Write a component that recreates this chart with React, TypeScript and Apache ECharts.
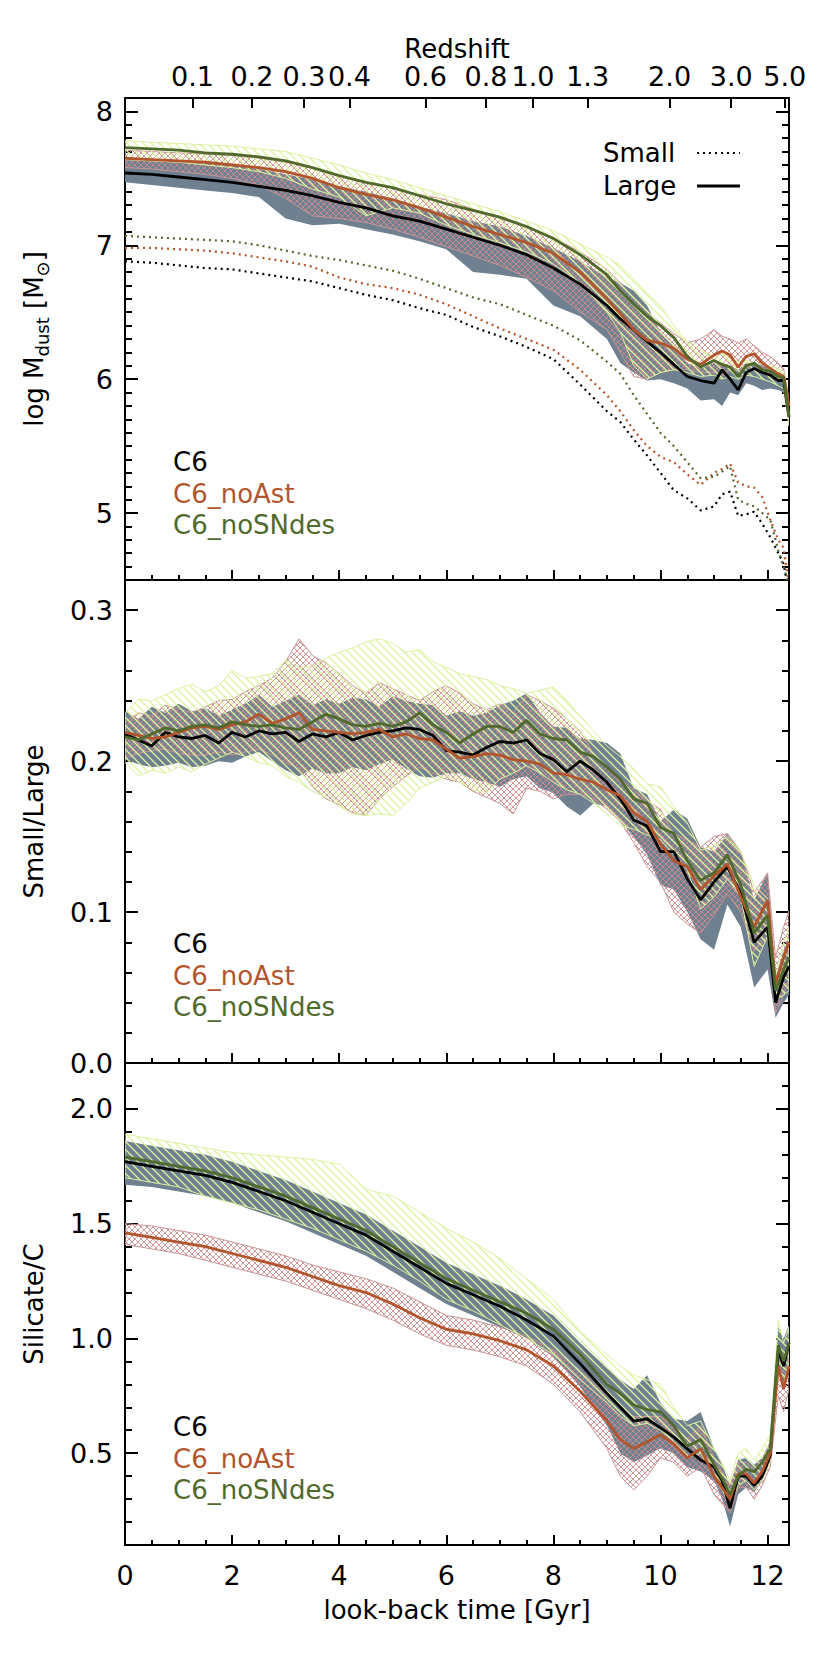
import React, { useEffect, useRef } from 'react';
import * as echarts from 'echarts';

// ---------- shared time grids (look-back time, Gyr) ----------
const T1 = [
  0, 0.5, 1, 1.5, 2, 2.5, 3, 3.5, 4, 4.5,
  5, 5.5, 6, 6.5, 7, 7.5, 8, 8.5, 9, 9.25,
  9.5, 9.75, 10, 10.25, 10.5, 10.75, 11, 11.15, 11.3, 11.45,
  11.6, 11.75, 11.9, 12.05, 12.2, 12.3, 12.4,
];
const T2 = [
  0, 0.25, 0.5, 0.75, 1, 1.25, 1.5, 1.75,
  2, 2.25, 2.5, 2.75, 3, 3.25, 3.5, 3.75,
  4, 4.25, 4.5, 4.75, 5, 5.25, 5.5, 5.75,
  6, 6.25, 6.5, 6.75, 7, 7.25, 7.5, 7.75,
  8, 8.25, 8.5, 8.75, 9, 9.25, 9.5, 9.75,
  10, 10.25, 10.5, 10.75, 11, 11.25, 11.5, 11.75,
  12, 12.15, 12.3, 12.4,
];

// ---------- panel 1: log M_dust ----------
const P1_C6_LARGE = [
  7.54, 7.53, 7.51, 7.49, 7.47, 7.44, 7.41, 7.37, 7.32, 7.28,
  7.22, 7.18, 7.12, 7.06, 7.00, 6.93, 6.83, 6.71, 6.55, 6.45,
  6.37, 6.28, 6.20, 6.11, 6.02, 5.99, 5.97, 6.07, 6.00, 5.92,
  6.05, 6.08, 6.05, 6.03, 5.99, 5.99, 5.72,
];
const P1_NOAST_LARGE = [
  7.65, 7.64, 7.63, 7.62, 7.60, 7.58, 7.55, 7.50, 7.43, 7.38,
  7.34, 7.28, 7.21, 7.14, 7.08, 7.02, 6.94, 6.80, 6.60, 6.49,
  6.37, 6.29, 6.27, 6.23, 6.15, 6.11, 6.18, 6.21, 6.18, 6.09,
  6.17, 6.19, 6.12, 6.08, 6.04, 6.02, 5.80,
];
const P1_NOSN_LARGE = [
  7.73, 7.72, 7.71, 7.69, 7.68, 7.66, 7.63, 7.58, 7.52, 7.47,
  7.43, 7.37, 7.31, 7.26, 7.21, 7.14, 7.05, 6.93, 6.78, 6.66,
  6.56, 6.47, 6.40, 6.31, 6.17, 6.09, 6.14, 6.11, 6.09, 6.02,
  6.10, 6.12, 6.07, 6.06, 6.02, 6.01, 5.72,
];
const P1_C6_SMALL = [
  6.88, 6.87, 6.85, 6.83, 6.82, 6.79, 6.76, 6.73, 6.68, 6.63,
  6.59, 6.53, 6.48, 6.39, 6.32, 6.24, 6.15, 5.96, 5.76, 5.68,
  5.55, 5.43, 5.30, 5.17, 5.11, 5.02, 5.05, 5.14, 5.16, 4.98,
  4.99, 5.01, 4.92, 4.82, 4.70, 4.62, 4.40,
];
const P1_NOAST_SMALL = [
  6.98, 6.98, 6.97, 6.96, 6.94, 6.91, 6.88, 6.84, 6.76, 6.71,
  6.68, 6.63, 6.56, 6.47, 6.38, 6.30, 6.22, 6.07, 5.88, 5.76,
  5.62, 5.50, 5.42, 5.38, 5.29, 5.21, 5.30, 5.33, 5.37, 5.23,
  5.20, 5.19, 5.12, 4.95, 4.80, 4.74, 4.45,
];
const P1_NOSN_SMALL = [
  7.07, 7.06, 7.05, 7.04, 7.03, 7.00, 6.96, 6.92, 6.89, 6.85,
  6.81, 6.75, 6.68, 6.61, 6.56, 6.48, 6.40, 6.29, 6.13, 6.04,
  5.88, 5.74, 5.60, 5.50, 5.38, 5.26, 5.27, 5.31, 5.35, 5.10,
  5.07, 5.05, 5.00, 4.95, 4.72, 4.60, 4.45,
];
const P1_C6_LO = [
  7.47, 7.45, 7.43, 7.41, 7.39, 7.36, 7.20, 7.15, 7.16, 7.12,
  7.08, 7.03, 6.97, 6.80, 6.78, 6.75, 6.55, 6.47, 6.30, 6.12,
  6.05, 5.99, 6.00, 5.97, 5.93, 5.84, 5.85, 5.80, 5.90, 5.88,
  5.97, 5.95, 5.92, 5.93, 5.92, 5.90, 5.65,
];
const P1_C6_HI = [
  7.64, 7.63, 7.62, 7.61, 7.60, 7.57, 7.53, 7.49, 7.44, 7.40,
  7.35, 7.29, 7.24, 7.18, 7.14, 7.07, 6.98, 6.88, 6.76, 6.72,
  6.66, 6.55, 6.35, 6.25, 6.12, 6.08, 6.12, 6.12, 6.10, 6.07,
  6.12, 6.12, 6.10, 6.08, 6.05, 6.04, 5.80,
];
const P1_NOAST_LO = [
  7.58, 7.57, 7.55, 7.53, 7.50, 7.45, 7.35, 7.22, 7.20, 7.17,
  7.12, 7.06, 6.99, 6.92, 6.85, 6.76, 6.66, 6.50, 6.37, 6.20,
  6.02, 6.00, 6.05, 6.07, 6.07, 6.05, 6.05, 6.02, 6.07, 6.06,
  6.09, 6.07, 6.05, 6.02, 6.00, 5.97, 5.70,
];
const P1_NOAST_HI = [
  7.71, 7.70, 7.69, 7.68, 7.67, 7.65, 7.62, 7.58, 7.52, 7.47,
  7.43, 7.38, 7.34, 7.27, 7.20, 7.13, 7.06, 6.95, 6.82, 6.72,
  6.60, 6.50, 6.42, 6.34, 6.27, 6.30, 6.37, 6.32, 6.30, 6.27,
  6.30, 6.25, 6.20, 6.17, 6.12, 6.08, 5.85,
];
const P1_NOSN_LO = [
  7.64, 7.63, 7.62, 7.60, 7.58, 7.55, 7.50, 7.42, 7.36, 7.22,
  7.28, 7.24, 7.15, 7.08, 7.02, 6.95, 6.86, 6.72, 6.50, 6.35,
  6.10, 6.00, 6.05, 6.07, 6.05, 6.02, 6.03, 6.00, 6.02, 6.00,
  6.03, 6.02, 6.00, 5.98, 5.95, 5.93, 5.65,
];
const P1_NOSN_HI = [
  7.78, 7.77, 7.76, 7.75, 7.74, 7.72, 7.70, 7.65, 7.60, 7.54,
  7.49, 7.43, 7.37, 7.31, 7.25, 7.18, 7.11, 7.01, 6.91, 6.85,
  6.75, 6.64, 6.55, 6.40, 6.28, 6.22, 6.17, 6.20, 6.15, 6.13,
  6.14, 6.12, 6.11, 6.10, 6.08, 6.06, 5.80,
];

// ---------- panel 2: Small/Large ----------
const P2_C6 = [
  0.218, 0.214, 0.210, 0.219, 0.216, 0.215, 0.217, 0.212,
  0.219, 0.216, 0.220, 0.218, 0.219, 0.213, 0.218, 0.216,
  0.219, 0.214, 0.217, 0.219, 0.220, 0.222, 0.221, 0.217,
  0.207, 0.206, 0.204, 0.209, 0.213, 0.212, 0.214, 0.205,
  0.201, 0.193, 0.200, 0.194, 0.186, 0.175, 0.161, 0.157,
  0.140, 0.140, 0.122, 0.108, 0.120, 0.130, 0.112, 0.080,
  0.090, 0.040, 0.057, 0.064,
];
const P2_NOAST = [
  0.219, 0.217, 0.215, 0.216, 0.219, 0.222, 0.223, 0.221,
  0.224, 0.226, 0.231, 0.225, 0.228, 0.232, 0.221, 0.220,
  0.219, 0.218, 0.219, 0.221, 0.216, 0.218, 0.215, 0.214,
  0.208, 0.202, 0.203, 0.205, 0.204, 0.201, 0.200, 0.198,
  0.192, 0.191, 0.188, 0.186, 0.181, 0.177, 0.166, 0.160,
  0.145, 0.134, 0.130, 0.115, 0.124, 0.132, 0.110, 0.090,
  0.108, 0.053, 0.070, 0.080,
];
const P2_NOSN = [
  0.216, 0.214, 0.218, 0.222, 0.220, 0.223, 0.224, 0.222,
  0.226, 0.224, 0.223, 0.224, 0.222, 0.221, 0.226, 0.231,
  0.228, 0.224, 0.223, 0.225, 0.223, 0.226, 0.232, 0.224,
  0.219, 0.212, 0.218, 0.223, 0.223, 0.219, 0.227, 0.218,
  0.215, 0.214, 0.206, 0.203, 0.196, 0.188, 0.175, 0.172,
  0.156, 0.152, 0.134, 0.121, 0.126, 0.138, 0.118, 0.086,
  0.098, 0.048, 0.062, 0.070,
];
const P2_C6_HI = [
  0.233, 0.228, 0.236, 0.232, 0.238, 0.233, 0.235, 0.230,
  0.234, 0.238, 0.244, 0.236, 0.240, 0.244, 0.237, 0.241,
  0.238, 0.242, 0.241, 0.236, 0.243, 0.240, 0.238, 0.237,
  0.230, 0.233, 0.230, 0.232, 0.237, 0.240, 0.245, 0.232,
  0.223, 0.222, 0.215, 0.214, 0.212, 0.205, 0.182, 0.178,
  0.160, 0.168, 0.162, 0.143, 0.140, 0.152, 0.140, 0.108,
  0.126, 0.057, 0.075, 0.084,
];
const P2_C6_LO = [
  0.201, 0.198, 0.196, 0.197, 0.199, 0.196, 0.197, 0.200,
  0.199, 0.203, 0.206, 0.200, 0.194, 0.190, 0.195, 0.192,
  0.192, 0.196, 0.194, 0.198, 0.201, 0.195, 0.190, 0.189,
  0.192, 0.192, 0.188, 0.186, 0.183, 0.188, 0.190, 0.182,
  0.179, 0.170, 0.164, 0.172, 0.170, 0.160, 0.150, 0.138,
  0.118, 0.115, 0.100, 0.082, 0.075, 0.105, 0.090, 0.050,
  0.062, 0.030, 0.040, 0.045,
];
const P2_NOAST_HI = [
  0.226, 0.232, 0.230, 0.237, 0.235, 0.232, 0.236, 0.240,
  0.241, 0.246, 0.250, 0.255, 0.266, 0.281, 0.270, 0.265,
  0.258, 0.250, 0.245, 0.252, 0.248, 0.244, 0.240, 0.246,
  0.250, 0.245, 0.238, 0.234, 0.238, 0.232, 0.244, 0.240,
  0.235, 0.228, 0.220, 0.205, 0.196, 0.188, 0.181, 0.174,
  0.168, 0.152, 0.148, 0.143, 0.150, 0.152, 0.140, 0.113,
  0.126, 0.070, 0.090, 0.101,
];
const P2_NOAST_LO = [
  0.202, 0.205, 0.207, 0.208, 0.205, 0.204, 0.204, 0.206,
  0.204, 0.206, 0.208, 0.204, 0.199, 0.195, 0.183, 0.175,
  0.171, 0.166, 0.164, 0.175, 0.183, 0.190, 0.196, 0.192,
  0.188, 0.186, 0.180, 0.176, 0.172, 0.165, 0.182, 0.180,
  0.175, 0.178, 0.178, 0.175, 0.168, 0.160, 0.146, 0.130,
  0.120, 0.100, 0.092, 0.086, 0.098, 0.112, 0.100, 0.074,
  0.084, 0.033, 0.045, 0.055,
];
const P2_NOSN_HI = [
  0.232, 0.241, 0.240, 0.244, 0.248, 0.251, 0.246, 0.250,
  0.260, 0.255, 0.256, 0.258, 0.267, 0.262, 0.263, 0.268,
  0.272, 0.275, 0.279, 0.281, 0.278, 0.272, 0.274, 0.266,
  0.262, 0.258, 0.256, 0.254, 0.250, 0.248, 0.245, 0.247,
  0.249, 0.240, 0.230, 0.220, 0.210, 0.203, 0.195, 0.185,
  0.183, 0.170, 0.159, 0.141, 0.144, 0.150, 0.140, 0.118,
  0.109, 0.057, 0.080, 0.090,
];
const P2_NOSN_LO = [
  0.199, 0.190, 0.194, 0.192, 0.196, 0.193, 0.198, 0.202,
  0.206, 0.203, 0.199, 0.197, 0.190, 0.186, 0.180, 0.176,
  0.170, 0.165, 0.164, 0.165, 0.164, 0.172, 0.182, 0.186,
  0.190, 0.186, 0.181, 0.179, 0.188, 0.192, 0.197, 0.192,
  0.186, 0.181, 0.178, 0.172, 0.165, 0.157, 0.155, 0.151,
  0.148, 0.138, 0.128, 0.102, 0.110, 0.122, 0.110, 0.064,
  0.084, 0.042, 0.045, 0.048,
];

// ---------- panel 3: Silicate/C ----------
const P3_C6 = [
  1.77, 1.75, 1.73, 1.71, 1.68, 1.64, 1.60, 1.55, 1.50, 1.45,
  1.38, 1.31, 1.24, 1.19, 1.14, 1.08, 1.01, 0.89, 0.76, 0.70,
  0.64, 0.65, 0.61, 0.57, 0.52, 0.47, 0.44, 0.38, 0.26, 0.40,
  0.40, 0.36, 0.40, 0.49, 0.95, 0.88, 0.98,
];
const P3_NOAST = [
  1.46, 1.44, 1.42, 1.40, 1.37, 1.34, 1.31, 1.27, 1.23, 1.20,
  1.15, 1.09, 1.04, 1.02, 0.99, 0.95, 0.88, 0.77, 0.64, 0.56,
  0.52, 0.55, 0.58, 0.54, 0.48, 0.52, 0.40, 0.35, 0.30, 0.41,
  0.41, 0.37, 0.42, 0.50, 0.88, 0.78, 0.88,
];
const P3_NOSN = [
  1.79, 1.77, 1.75, 1.73, 1.70, 1.66, 1.62, 1.57, 1.52, 1.47,
  1.40, 1.33, 1.26, 1.21, 1.16, 1.11, 1.04, 0.93, 0.80, 0.76,
  0.71, 0.69, 0.68, 0.62, 0.53, 0.56, 0.45, 0.39, 0.32, 0.40,
  0.43, 0.42, 0.46, 0.52, 0.97, 0.90, 0.98,
];
const P3_C6_HI = [
  1.86, 1.84, 1.82, 1.80, 1.77, 1.73, 1.69, 1.64, 1.59, 1.54,
  1.47, 1.40, 1.33, 1.28, 1.23, 1.17, 1.10, 0.98, 0.87, 0.82,
  0.78, 0.84, 0.72, 0.65, 0.64, 0.68, 0.52, 0.45, 0.36, 0.47,
  0.48, 0.45, 0.48, 0.55, 1.05, 1.00, 1.06,
];
const P3_C6_LO = [
  1.67, 1.66, 1.64, 1.62, 1.59, 1.55, 1.51, 1.46, 1.41, 1.36,
  1.29, 1.22, 1.15, 1.10, 1.05, 1.00, 0.92, 0.79, 0.62, 0.50,
  0.46, 0.49, 0.52, 0.50, 0.44, 0.42, 0.38, 0.30, 0.18, 0.32,
  0.35, 0.33, 0.38, 0.46, 0.85, 0.80, 0.90,
];
const P3_NOAST_HI = [
  1.50, 1.49, 1.47, 1.45, 1.42, 1.39, 1.36, 1.32, 1.29, 1.26,
  1.22, 1.16, 1.10, 1.08, 1.05, 1.01, 0.95, 0.86, 0.75, 0.70,
  0.66, 0.66, 0.66, 0.62, 0.56, 0.62, 0.48, 0.42, 0.36, 0.46,
  0.46, 0.43, 0.47, 0.55, 0.95, 0.92, 0.95,
];
const P3_NOAST_LO = [
  1.41, 1.39, 1.37, 1.34, 1.31, 1.28, 1.25, 1.21, 1.17, 1.13,
  1.08, 1.02, 0.97, 0.95, 0.92, 0.88, 0.80, 0.68, 0.52, 0.40,
  0.34, 0.40, 0.48, 0.46, 0.40, 0.44, 0.32, 0.28, 0.24, 0.35,
  0.35, 0.30, 0.36, 0.44, 0.75, 0.68, 0.78,
];
const P3_NOSN_HI = [
  1.89, 1.87, 1.85, 1.83, 1.81, 1.80, 1.79, 1.78, 1.76, 1.65,
  1.62, 1.55, 1.48, 1.42, 1.35, 1.26, 1.17, 1.03, 0.93, 0.88,
  0.84, 0.82, 0.80, 0.70, 0.62, 0.64, 0.52, 0.46, 0.38, 0.50,
  0.52, 0.47, 0.52, 0.58, 1.08, 0.98, 1.05,
];
const P3_NOSN_LO = [
  1.70, 1.68, 1.66, 1.62, 1.59, 1.56, 1.52, 1.48, 1.43, 1.38,
  1.32, 1.25, 1.17, 1.12, 1.06, 1.00, 0.93, 0.82, 0.72, 0.66,
  0.62, 0.63, 0.60, 0.55, 0.48, 0.50, 0.40, 0.34, 0.27, 0.36,
  0.38, 0.34, 0.38, 0.46, 0.85, 0.80, 0.90,
];

// ---------- axis tick labels ----------
const X_MAJOR = [0, 2, 4, 6, 8, 10, 12];
const Z_LABELS = ['0.1', '0.2', '0.3', '0.4', '0.6', '0.8', '1.0', '1.3', '2.0', '3.0', '5.0'];
const Z_TIME = [1.26, 2.37, 3.34, 4.19, 5.61, 6.74, 7.62, 8.64, 10.17, 11.32, 12.32];
const Y1_MAJOR = [5, 6, 7, 8];
const Y2_MAJOR = [0, 0.1, 0.2, 0.3];
const Y3_MAJOR = [0.5, 1.0, 1.5, 2.0];
const MODEL_NAMES = ['C6', 'C6_noAst', 'C6_noSNdes'];

// ---------- style ----------
const FONT = 'DejaVu Sans';
const C_BLACK = '#000000';
const C_ORANGE = '#b3552c';
const C_GREEN = '#50692c';
const C_GRAY = '#6f8091';
const C_PINK = '#c99595';
const C_YELLOW = '#dcf0a0';
const MODEL_COLORS = [C_BLACK, C_ORANGE, C_GREEN];

const GRID_TOP = [98, 580, 1063];
const GRID_H = [482, 483, 482];
const GRID_LEFT = 125;
const GRID_W = 664;

function minorTicks(from: number, to: number, step: number, majorEvery: number) {
  const out: number[] = [];
  const n = Math.round((to - from) / step);
  for (let k = 0; k <= n; k++) {
    const v = +(from + k * step).toFixed(4);
    const r = v / majorEvery;
    if (Math.abs(r - Math.round(r)) > 1e-6) out.push(v);
  }
  return out;
}

function hatch(cross: boolean, color: string, size: number, lw: number) {
  const c = document.createElement('canvas');
  c.width = size;
  c.height = size;
  const g = c.getContext('2d') as CanvasRenderingContext2D;
  g.strokeStyle = color;
  g.lineWidth = lw;
  g.beginPath();
  g.moveTo(-2, -2); g.lineTo(size + 2, size + 2);
  g.moveTo(-2, size - 2); g.lineTo(2, size + 2);
  g.moveTo(size - 2, -2); g.lineTo(size + 2, 2);
  if (cross) {
    g.moveTo(-2, size + 2); g.lineTo(size + 2, -2);
    g.moveTo(-2, 2); g.lineTo(2, -2);
    g.moveTo(size - 2, size + 2); g.lineTo(size + 2, size - 2);
  }
  g.stroke();
  return c;
}

function pairs(T: number[], v: number[]) {
  return T.map((t, i) => [t, v[i]]);
}

function band(gi: number, T: number[], lo: number[], hi: number[], fill: any, stroke: string | null, z: number) {
  return {
    type: 'custom',
    xAxisIndex: gi * 3,
    yAxisIndex: gi * 4,
    z,
    clip: true,
    silent: true,
    data: T.map((t, i) => [t, lo[i], hi[i]]),
    encode: { x: 0, y: [1, 2] },
    renderItem: (params: any, api: any) => {
      if (params.dataIndex !== 0) return null;
      const pts: number[][] = [];
      for (let i = 0; i < T.length; i++) pts.push(api.coord([T[i], hi[i]]));
      for (let i = T.length - 1; i >= 0; i--) pts.push(api.coord([T[i], lo[i]]));
      return {
        type: 'polygon',
        shape: { points: pts },
        style: { fill, stroke: stroke || 'none', lineWidth: stroke ? 1 : 0 },
      };
    },
  };
}

function line(gi: number, T: number[], v: number[], color: string, dotted: boolean, z: number) {
  return {
    type: 'line',
    xAxisIndex: gi * 3,
    yAxisIndex: gi * 4,
    z,
    data: pairs(T, v),
    showSymbol: false,
    symbol: 'none',
    silent: true,
    clip: true,
    lineStyle: dotted
      ? { color, width: 2.2, type: [2, 4] }
      : { color, width: 2.8 },
  };
}

const lab = { fontFamily: FONT, fontSize: 26, color: '#000' };
const tickLab = { fontFamily: FONT, fontSize: 27, color: '#000' };
const axLine = { show: true, onZero: false, lineStyle: { color: '#000', width: 2 } };

export default function App() {
  const ref = useRef<HTMLDivElement>(null);

  useEffect(() => {
    if (!ref.current) return;
    const chart = echarts.init(ref.current, null, { renderer: 'svg' });

    const X_MINOR = minorTicks(0.5, 12, 0.5, 2);
    const YCFG = [
      { min: 4.5, max: 8.1, major: Y1_MAJOR, minor: minorTicks(4.6, 8.0, 0.1, 1), fmt: (v: number) => String(Math.round(v)), name: 'log M{s|dust} [M{s|⊙}]' },
      { min: 0, max: 0.32, major: Y2_MAJOR, minor: minorTicks(0.02, 0.3, 0.02, 0.1), fmt: (v: number) => v.toFixed(1), name: 'Small/Large' },
      { min: 0.1, max: 2.2, major: Y3_MAJOR, minor: minorTicks(0.2, 2.1, 0.1, 0.5), fmt: (v: number) => v.toFixed(1), name: 'Silicate/C' },
    ];

    const grids: any[] = [];
    const xAxes: any[] = [];
    const yAxes: any[] = [];
    for (let gi = 0; gi < 3; gi++) {
      grids.push({ left: GRID_LEFT, width: GRID_W, top: GRID_TOP[gi], height: GRID_H[gi], containLabel: false });
      const xb = { gridIndex: gi, type: 'value', min: 0, max: 12.4, splitLine: { show: false } };
      xAxes.push({
        ...xb, position: 'bottom', axisLine: axLine,
        axisTick: { show: true, inside: true, length: 10, customValues: X_MAJOR, lineStyle: { color: '#000', width: 2 } },
        axisLabel: { show: gi === 2, customValues: X_MAJOR, margin: 17, ...tickLab },
        name: gi === 2 ? 'look-back time [Gyr]' : '', nameLocation: 'middle', nameGap: 52, nameTextStyle: lab,
      });
      xAxes.push({
        ...xb, position: 'bottom', axisLine: { show: false, onZero: false },
        axisTick: { show: true, inside: true, length: 5, customValues: X_MINOR, lineStyle: { color: '#000', width: 2 } },
        axisLabel: { show: false },
      });
      if (gi === 0) {
        xAxes.push({
          ...xb, position: 'top', axisLine: axLine,
          axisTick: { show: true, inside: true, length: 10, customValues: Z_TIME, lineStyle: { color: '#000', width: 2 } },
          axisLabel: {
            show: true, customValues: Z_TIME, margin: 8, ...tickLab,
            formatter: (v: number) => { const k = Z_TIME.indexOf(v); return k >= 0 ? Z_LABELS[k] : ''; },
          },
          name: 'Redshift', nameLocation: 'middle', nameGap: 35, nameTextStyle: lab,
        });
      } else {
        xAxes.push({ ...xb, position: 'top', axisLine: axLine, axisTick: { show: false }, axisLabel: { show: false } });
      }

      const c = YCFG[gi];
      const yb = { gridIndex: gi, type: 'value', min: c.min, max: c.max, splitLine: { show: false } };
      yAxes.push({
        ...yb, position: 'left', axisLine: axLine,
        axisTick: { show: true, inside: true, length: 13, customValues: c.major, lineStyle: { color: '#000', width: 2 } },
        axisLabel: { show: true, customValues: c.major, margin: 12, formatter: c.fmt, ...tickLab },
        name: c.name, nameLocation: 'middle', nameGap: 74, nameRotate: 90,
        nameTextStyle: { ...lab, lineHeight: 34, rich: { s: { fontFamily: FONT, fontSize: 18, lineHeight: 18, verticalAlign: 'bottom', color: '#000' } } },
      });
      yAxes.push({
        ...yb, position: 'left', axisLine: { show: false, onZero: false },
        axisTick: { show: true, inside: true, length: 7, customValues: c.minor, lineStyle: { color: '#000', width: 2 } },
        axisLabel: { show: false },
      });
      yAxes.push({
        ...yb, position: 'right', axisLine: axLine,
        axisTick: { show: true, inside: true, length: 13, customValues: c.major, lineStyle: { color: '#000', width: 2 } },
        axisLabel: { show: false },
      });
      yAxes.push({
        ...yb, position: 'right', axisLine: { show: false, onZero: false },
        axisTick: { show: true, inside: true, length: 7, customValues: c.minor, lineStyle: { color: '#000', width: 2 } },
        axisLabel: { show: false },
      });
    }

    const pinkPat = { image: hatch(true, 'rgba(205,140,140,1)', 6, 0.9), repeat: 'repeat', imageWidth: 6, imageHeight: 6 };
    const yellowPat = { image: hatch(false, 'rgba(222,243,158,1)', 8, 1.3), repeat: 'repeat', imageWidth: 8, imageHeight: 8 };

    const series: any[] = [
      band(0, T1, P1_C6_LO, P1_C6_HI, C_GRAY, null, 1),
      band(0, T1, P1_NOAST_LO, P1_NOAST_HI, pinkPat, C_PINK, 2),
      band(0, T1, P1_NOSN_LO, P1_NOSN_HI, yellowPat, C_YELLOW, 3),
      line(0, T1, P1_C6_SMALL, C_BLACK, true, 4),
      line(0, T1, P1_NOAST_SMALL, C_ORANGE, true, 4),
      line(0, T1, P1_NOSN_SMALL, C_GREEN, true, 4),
      line(0, T1, P1_C6_LARGE, C_BLACK, false, 5),
      line(0, T1, P1_NOAST_LARGE, C_ORANGE, false, 5),
      line(0, T1, P1_NOSN_LARGE, C_GREEN, false, 5),
      band(1, T2, P2_C6_LO, P2_C6_HI, C_GRAY, null, 1),
      band(1, T2, P2_NOAST_LO, P2_NOAST_HI, pinkPat, C_PINK, 2),
      band(1, T2, P2_NOSN_LO, P2_NOSN_HI, yellowPat, C_YELLOW, 3),
      line(1, T2, P2_C6, C_BLACK, false, 5),
      line(1, T2, P2_NOAST, C_ORANGE, false, 5),
      line(1, T2, P2_NOSN, C_GREEN, false, 5),
      band(2, T1, P3_C6_LO, P3_C6_HI, C_GRAY, null, 1),
      band(2, T1, P3_NOAST_LO, P3_NOAST_HI, pinkPat, C_PINK, 2),
      band(2, T1, P3_NOSN_LO, P3_NOSN_HI, yellowPat, C_YELLOW, 3),
      line(2, T1, P3_C6, C_BLACK, false, 5),
      line(2, T1, P3_NOAST, C_ORANGE, false, 5),
      line(2, T1, P3_NOSN, C_GREEN, false, 5),
    ];

    const graphics: any[] = [];
    for (let gi = 0; gi < 3; gi++) {
      MODEL_NAMES.forEach((nm, k) => {
        graphics.push({
          type: 'text', x: 173, y: GRID_TOP[gi] + 364 + k * 31.5, z: 10,
          style: { text: nm, fill: MODEL_COLORS[k], fontFamily: FONT, fontSize: 26, verticalAlign: 'middle', align: 'left' },
        });
      });
    }
    graphics.push(
      { type: 'text', x: 603, y: 153, z: 10, style: { text: 'Small', fill: '#000', fontFamily: FONT, fontSize: 26, verticalAlign: 'middle', align: 'left' } },
      { type: 'text', x: 603, y: 186, z: 10, style: { text: 'Large', fill: '#000', fontFamily: FONT, fontSize: 26, verticalAlign: 'middle', align: 'left' } },
      { type: 'line', z: 10, shape: { x1: 697, y1: 153, x2: 740, y2: 153 }, style: { stroke: '#000', lineWidth: 2.2, lineDash: [2, 4] } },
      { type: 'line', z: 10, shape: { x1: 697, y1: 186, x2: 740, y2: 186 }, style: { stroke: '#000', lineWidth: 2.8 } },
    );

    chart.setOption({
      animation: false,
      backgroundColor: '#ffffff',
      textStyle: { fontFamily: FONT },
      grid: grids,
      xAxis: xAxes,
      yAxis: yAxes,
      series,
      graphic: graphics,
    });

    return () => chart.dispose();
  }, []);

  return (
    <div
      ref={ref}
      style={{ position: 'absolute', left: 0, top: 0, width: 830, height: 1662, background: '#fff' }}
    />
  );
}
